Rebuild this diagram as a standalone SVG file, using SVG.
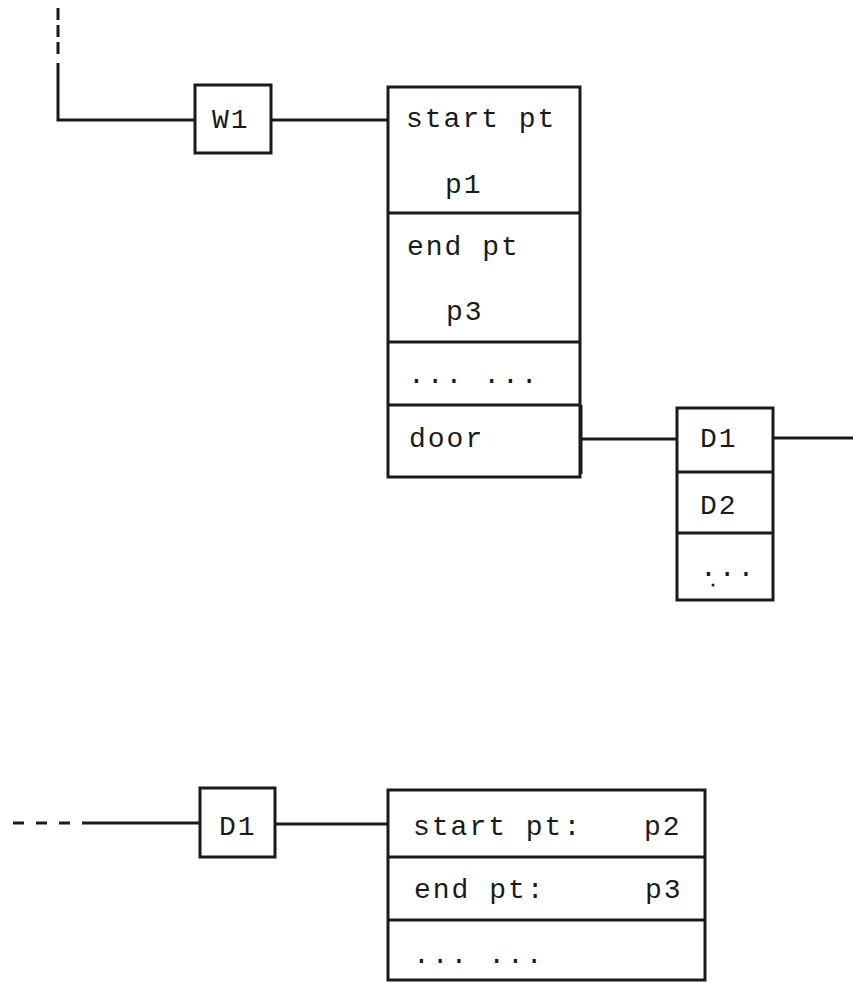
<svg xmlns="http://www.w3.org/2000/svg" width="853" height="983" viewBox="0 0 853 983">
<style>
.bx{fill:none;stroke:#1a1a1a;stroke-width:3;stroke-linejoin:miter}
.ln{fill:none;stroke:#1a1a1a;stroke-width:3}
.ds{fill:none;stroke:#1a1a1a;stroke-width:3;stroke-dasharray:12 5}
text{font-family:"Liberation Mono","DejaVu Sans Mono",monospace;font-size:28px;letter-spacing:2px;fill:#1a1a1a}
</style>
<rect width="853" height="983" fill="#ffffff"/>
<g id="connectors">
<path class="ds" d="M58 8 V58"/>
<path class="ln" d="M58 63 V120 H195"/>
<path class="ln" d="M271 120 H387"/>
<path class="ln" d="M581 405 V474 M581 439 H677"/>
<path class="ln" d="M773 438 H853"/>
<path class="ds" d="M13 823 H74" style="stroke-dasharray:11 12"/>
<path class="ln" d="M82 823 H200"/>
<path class="ln" d="M275 824 H388"/>
</g>
<g id="W1">
<rect class="bx" x="195" y="85" width="76" height="68"/>
<text x="212" y="128">W1</text>
</g>
<g id="wall-record">
<rect class="bx" x="388" y="87" width="192" height="390"/>
<path class="ln" d="M388 213 H580 M388 342 H580 M388 405 H580"/>
<text x="406" y="127">start pt</text>
<text x="445" y="193">p1</text>
<text x="407" y="255">end pt</text>
<text x="446" y="320">p3</text>
<text x="408" y="383">... ...</text>
<text x="409" y="447">door</text>
</g>
<g id="door-list">
<rect class="bx" x="677" y="408" width="96" height="192"/>
<path class="ln" d="M677 472 H773 M677 533 H773"/>
<text x="700" y="447">D1</text>
<text x="700" y="514">D2</text>
<text x="700" y="576">...</text>
<circle cx="713" cy="585" r="1.5" fill="#1a1a1a"/>
</g>
<g id="D1">
<rect class="bx" x="200" y="788" width="75" height="69"/>
<text x="219" y="835">D1</text>
</g>
<g id="door-record">
<rect class="bx" x="388" y="790" width="317" height="190"/>
<path class="ln" d="M388 857 H705 M388 920 H705"/>
<text x="413" y="835">start pt:</text>
<text x="644" y="835">p2</text>
<text x="414" y="898">end pt:</text>
<text x="645" y="898">p3</text>
<text x="413" y="963">... ...</text>
</g>
</svg>
